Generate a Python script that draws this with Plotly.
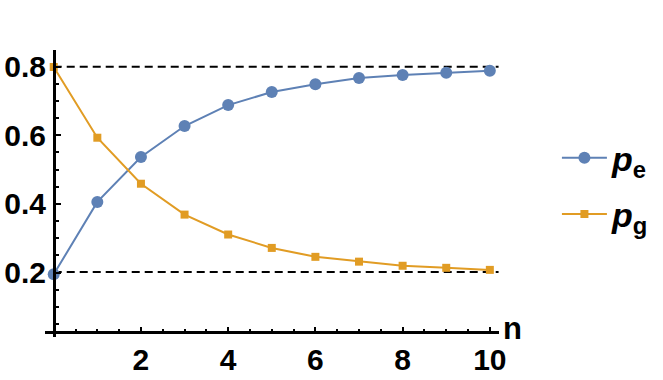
import plotly.graph_objects as go

n = list(range(11))
p_e = [0.195, 0.406, 0.537, 0.627, 0.688, 0.726, 0.749, 0.767, 0.776, 0.782, 0.788]
p_g = [0.799, 0.593, 0.459, 0.369, 0.311, 0.272, 0.246, 0.232, 0.220, 0.214, 0.208]
limits = [0.800, 0.202]
x_ticks = [2, 4, 6, 8, 10]
y_ticks = [0.2, 0.4, 0.6, 0.8]

BLUE = "#5E81B5"
ORANGE = "#E19C24"
FONT = "Liberation Sans"

fig = go.Figure()
for lv in limits:
    fig.add_shape(type="line", x0=0, x1=10.2, y0=lv, y1=lv, xref="x", yref="y",
                  line=dict(color="black", width=2, dash="8px,5px"), layer="below")

fig.add_trace(go.Scatter(x=n, y=p_e, mode="lines+markers", name="<b><i>p</i><sub>e</sub></b>",
                         legendgroup="a",
                         line=dict(color=BLUE, width=2), marker=dict(symbol="circle", size=12, color=BLUE),
                         cliponaxis=False))
fig.add_trace(go.Scatter(x=n, y=p_g, mode="lines+markers", name="<b><i>p</i><sub>g</sub></b>",
                         legendgroup="b",
                         line=dict(color=ORANGE, width=2), marker=dict(symbol="square", size=8, color=ORANGE),
                         cliponaxis=False))

fig.add_annotation(x=1.005, y=0.03, xref="paper", yref="paper", text="<b>n</b>", showarrow=False,
                   xanchor="left", yanchor="middle", font=dict(family=FONT, size=31, color="black"))

fig.update_layout(
    width=663, height=380,
    margin=dict(l=45, r=164, t=50, b=43, autoexpand=False),
    paper_bgcolor="white", plot_bgcolor="white",
    font=dict(family=FONT, color="black"),
    showlegend=True,
    legend=dict(xref="container", yref="container", x=0.84, y=0.66, xanchor="left", yanchor="top",
                font=dict(family=FONT, size=34, color="black"), tracegroupgap=9,
                itemwidth=45, bgcolor="rgba(0,0,0,0)"),
    xaxis=dict(range=[-0.2, 10.21], anchor="free", position=0.0157, automargin=False,
               showgrid=False, zeroline=False, showline=True, linecolor="black", linewidth=2.5,
               tickvals=x_ticks, ticktext=[f"<b>{v}</b>" for v in x_ticks],
               ticks="inside", ticklen=5, tickwidth=1.5, tickcolor="black",
               minor=dict(ticks="inside", dtick=0.5, tick0=0, ticklen=3, tickwidth=1.5, tickcolor="black", showgrid=False),
               tickfont=dict(family=FONT, size=30, color="black"), ticklabelstandoff=0),
    yaxis=dict(range=[0.0125, 0.8485], anchor="free", position=0.0194, automargin=False,
               showgrid=False, zeroline=False, showline=True, linecolor="black", linewidth=2.5,
               tickvals=y_ticks, ticktext=[f"<b>{v}</b>" for v in y_ticks],
               ticks="inside", ticklen=5, tickwidth=1.5, tickcolor="black",
               minor=dict(ticks="inside", dtick=0.05, tick0=0, ticklen=3, tickwidth=1.5, tickcolor="black", showgrid=False),
               tickfont=dict(family=FONT, size=30, color="black"), ticklabelstandoff=1),
)

fig.write_html("out.html")
